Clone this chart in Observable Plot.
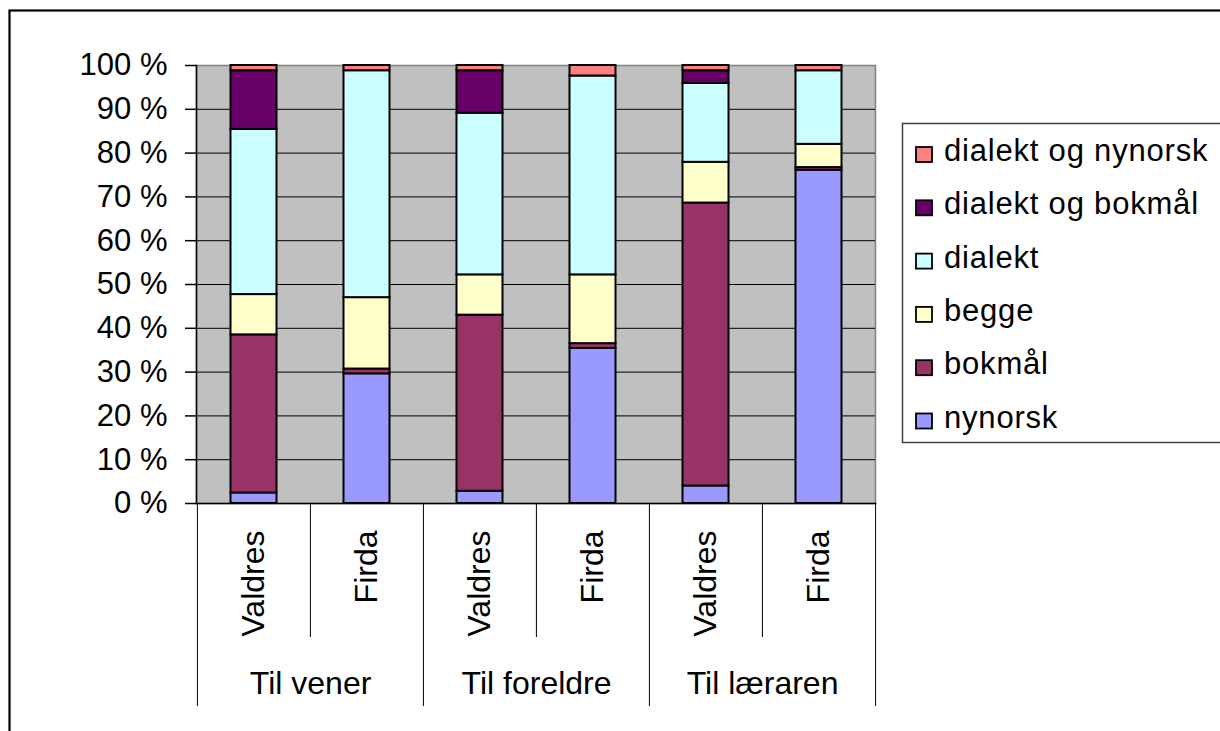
<!DOCTYPE html>
<html><head><meta charset="utf-8">
<script src="https://cdn.jsdelivr.net/npm/d3@7"></script>
<script src="https://cdn.jsdelivr.net/npm/@observablehq/plot@0.6"></script>
<style>
html,body{margin:0;padding:0;background:#fff;overflow:hidden}
#chart{position:relative;width:1220px;height:731px}
</style></head><body><div id="chart"></div>
<script>
// ---- data ----
const groups = ["Til vener","Til vener","Til foreldre","Til foreldre","Til læraren","Til læraren"];
const regions = ["Valdres","Firda","Valdres","Firda","Valdres","Firda"];
const seriesNames = ["nynorsk","bokmål","begge","dialekt","dialekt og bokmål","dialekt og nynorsk"];
const seriesColors = ["#9999FF","#993366","#FFFFCC","#CCFFFF","#660066","#FF8080"];
const nynorsk        = [2.4, 29.6, 2.8, 35.4, 4.0, 76.1];
const bokmal         = [36.1, 1.1, 40.2, 1.1, 64.6, 0.6];
const begge          = [9.2, 16.3, 9.2, 15.7, 9.3, 5.3];
const dialekt        = [37.7, 51.8, 36.9, 45.4, 18.0, 16.8];
const dialektBokmal  = [13.4, 0, 9.7, 0, 2.9, 0];
const dialektNynorsk = [1.2, 1.2, 1.2, 2.4, 1.2, 1.2];
const yTicks = [0,10,20,30,40,50,60,70,80,90,100];

// ---- build table ----
const keys = groups.map((g,i)=>g+"|"+regions[i]);
const seriesValues = [nynorsk, bokmal, begge, dialekt, dialektBokmal, dialektNynorsk];
const data = [];
seriesNames.forEach((s,si)=>keys.forEach((k,i)=>data.push({key:k, series:s, value:seriesValues[si][i]})));
const groupNames = [...new Set(groups)];
const groupFirstKey = groupNames.map(g=>keys[groups.indexOf(g)]);

const FONT = "'Liberation Sans', Arial, sans-serif";
const W=1220, H=731, ML=196, MR=345, MT=65, MB=228;
const bw = (W-ML-MR)/keys.length;

const chart = Plot.plot({
  width:W, height:H,
  marginLeft:ML, marginRight:MR, marginTop:MT, marginBottom:MB,
  style:{fontFamily:FONT, fontSize:"31px", background:"transparent", color:"#000", overflow:"visible"},
  x:{domain:keys, padding:0, axis:null},
  y:{domain:[0,100], axis:null},
  color:{domain:seriesNames, range:seriesColors},
  marks:[
    Plot.frame({fill:"#C0C0C0", stroke:"#808080", strokeWidth:1.5}),
    Plot.ruleY(yTicks.filter(t=>t>0&&t<100), {stroke:"#000", strokeWidth:1}),
    Plot.barY(data.filter(d=>d.value>0), Plot.stackY({
      x:"key", y:"value", z:"series", fill:"series", order:seriesNames,
      stroke:"#000", strokeWidth:2, insetLeft:33.5, insetRight:33.5
    })),
    Plot.frame({anchor:"left", stroke:"#000", strokeWidth:1.5}),
    Plot.frame({anchor:"bottom", stroke:"#000", strokeWidth:1.5}),
    Plot.axisY({ticks:yTicks, tickFormat:d=>d+" %", tickSize:11, tickPadding:18, fontSize:31, stroke:"#000", strokeWidth:1.5, label:null}),
    // category separators
    Plot.ruleX(keys.filter((k,i)=>i%2===0), {x:d=>d, dx:-bw/2, y1:()=>0, y2:()=>0, insetBottom:-203, stroke:"#000", strokeWidth:1}),
    Plot.ruleX(keys.filter((k,i)=>i%2===1), {x:d=>d, dx:-bw/2, y1:()=>0, y2:()=>0, insetBottom:-134, stroke:"#000", strokeWidth:1}),
    Plot.ruleX([keys[keys.length-1]], {x:d=>d, dx:bw/2, y1:()=>0, y2:()=>0, insetBottom:-203, stroke:"#000", strokeWidth:1}),
    // region labels
    Plot.text(keys, {x:d=>d, frameAnchor:"bottom", text:(d,i)=>regions[i], rotate:-90, textAnchor:"end", lineAnchor:"middle", dy:27, fontSize:32}),
    // group labels
    Plot.text(groupFirstKey, {x:d=>d, frameAnchor:"bottom", text:(d,i)=>groupNames[i], textAnchor:"middle", lineAnchor:"bottom", dx:bw/2, dy:190, fontSize:32})
  ]
});
document.getElementById("chart").appendChild(chart);

// ---- outer border and legend ----
const svg = d3.select(chart);
svg.append("rect").attr("x",9.5).attr("y",10.5).attr("width",1300).attr("height",800)
  .attr("fill","none").attr("stroke","#000").attr("stroke-width",2.2);
const color = chart.scale("color");
const lg = svg.append("g").attr("text-anchor","start");
lg.append("rect").attr("x",902.5).attr("y",123.5).attr("width",400).attr("height",319)
  .attr("fill","#fff").attr("stroke","#404040").attr("stroke-width",1.5);
const legendItems = seriesNames.slice().reverse();
legendItems.forEach((s,i)=>{
  const y0 = 147 + i*53.3;
  lg.append("rect").attr("x",916).attr("y",y0).attr("width",16).attr("height",15)
    .attr("fill",color.apply(s)).attr("stroke","#000").attr("stroke-width",1.8);
  lg.append("text").attr("x",944).attr("y",y0+14).text(s)
    .attr("text-anchor","start")
    .attr("font-family",FONT).attr("font-size",31).attr("letter-spacing","0.8px").attr("fill","#000");
});
</script></body></html>
